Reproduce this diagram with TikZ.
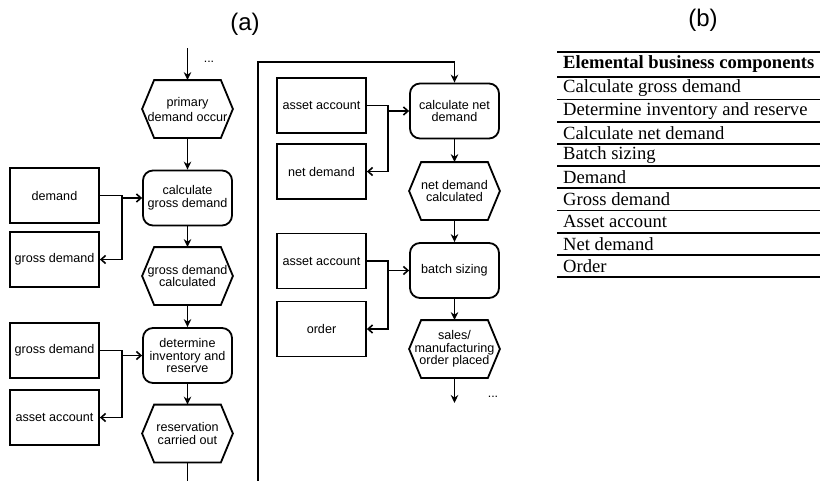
\documentclass[tikz,border=0pt]{standalone}
\usepackage{fontspec}
\setmainfont{Liberation Serif}
\setsansfont{Liberation Sans}
\usetikzlibrary{arrows.meta,calc}
\newcommand\hexo[1]{\draw[line width=1.8pt] (#1.west) -- ([xshift=12pt]#1.north west) -- ([xshift=-12pt]#1.north east) -- (#1.east) -- ([xshift=-12pt]#1.south east) -- ([xshift=12pt]#1.south west) -- cycle;}
\begin{document}
\begin{tikzpicture}[x=1pt,y=-1pt,
  base/.style={line width=1.8pt, minimum width=89pt, minimum height=55pt, inner sep=1pt, align=center, font=\sffamily\fontsize{12.6}{12.7}\selectfont},
  databox/.style={base, draw},
  procbox/.style={base, draw, rounded corners=10pt},
  hexbox/.style={base, draw=none, minimum height=56pt},
  flow/.style={line width=1.6pt, -{Stealth[length=8pt,width=7.5pt]}},
  feed/.style={line width=1.6pt, -{Straight Barb[length=4.5pt,width=8pt]}},
  tabrule/.style={line width=1.8pt},
  tabtext/.style={anchor=west, inner sep=0pt, font=\fontsize{18.6}{22}\selectfont},
  dotslabel/.style={font=\sffamily\fontsize{12.4}{14}\selectfont}
]
\clip (0,0) rectangle (830,480);
\fill[white] (0,0) rectangle (830,480);

% titles
\node[font=\sffamily\fontsize{24}{28}\selectfont] (la) at (245,24) {(a)};
\node[font=\sffamily\fontsize{24}{28}\selectfont] (lb) at (703,20) {(b)};

% left column
\node[databox] (demand) at (54.5,195.5) {demand};
\node[databox] (gd1) at (54.5,259.5) {gross demand};
\node[databox] (gd2) at (54.5,350.5) {gross demand};
\node[databox] (aa1) at (54.5,417.5) {asset account};
\node[hexbox, font=\sffamily\fontsize{12.6}{15}\selectfont] (pdo) at (187.5,109) {primary\\demand occur};
\hexo{pdo}
\node[procbox] (cgd) at (187.5,198) {calculate\\gross demand};
\node[hexbox] (gdc) at (187.5,276) {gross demand\\calculated};
\hexo{gdc}
\node[procbox] (dir) at (187.5,355.5) {determine\\inventory and\\reserve};
\node[hexbox] (rco) at (187.5,433.5) {reservation\\carried out};
\hexo{rco}

% right column
\node[databox] (aa2) at (321.5,105.5) {asset account};
\node[databox] (nd) at (321.5,171.5) {net demand};
\node[databox] (aa3) at (321.5,261) {asset account};
\node[databox] (ord) at (321.5,329) {order};
\node[procbox] (cnd) at (454.5,111) {calculate net\\demand};
\node[hexbox] (ndc) at (454.5,191) {net demand\\calculated};
\hexo{ndc}
\node[procbox] (bs) at (454.5,270.5) {batch sizing};
\node[hexbox] (smo) at (454.5,349) {sales/\\manufacturing\\order placed};
\hexo{smo}

% main flow
\coordinate (start) at (187.5,48);
\node[dotslabel] (dots1) at (209,62) {...};
\draw[flow] (start) -- (pdo.north);
\draw[flow] (pdo.south) -- (cgd.north);
\draw[flow] (cgd.south) -- (gdc.north);
\draw[flow] (gdc.south) -- (dir.north);
\draw[flow] (dir.south) -- (rco.north);
\coordinate (loopx) at (258,62);
\draw[flow] (rco.south) -- ++(0,40) -| (loopx) -| (cnd.north);
\draw[flow] (cnd.south) -- (ndc.north);
\draw[flow] (ndc.south) -- (bs.north);
\draw[flow] (bs.south) -- (smo.north);
\coordinate (end) at (454.5,403);
\draw[flow] (smo.south) -- (end);
\node[dotslabel] (dots2) at (493,397) {...};

% data feeds left
\coordinate (jl) at (122,0);
\draw[feed] (demand.east) -| (jl |- gd1.east) -- (gd1.east);
\draw[feed] (jl |- cgd.west) -- (cgd.west);
\draw[feed] (gd2.east) -| (jl |- aa1.east) -- (aa1.east);
\draw[feed] (jl |- dir.west) -- (dir.west);

% data feeds right
\coordinate (jr) at (388,0);
\draw[feed] (aa2.east) -| (jr |- nd.east) -- (nd.east);
\draw[feed] (jr |- cnd.west) -- (cnd.west);
\draw[feed] (aa3.east) -| (jr |- ord.east) -- (ord.east);
\draw[feed] (jr |- bs.west) -- (bs.west);

% table (b)
\draw[tabrule] (557,51.7) -- (820,51.7);
\foreach \k in {0,...,9}
  \draw[tabrule] (557,{77.3+22.2*\k}) -- (820,{77.3+22.2*\k});
\node[tabtext, font=\bfseries\fontsize{18.6}{22}\selectfont] (th) at (563,64.5) {Elemental business components};
\foreach \t [count=\i] in {Calculate gross demand, Determine inventory and reserve, Calculate net demand, Batch sizing, Demand, Gross demand, Asset account, Net demand, Order}
  \node[tabtext] (r\i) at (563,{77.3+22.2*(\i-0.5)}) {\t};
\end{tikzpicture}
\end{document}
